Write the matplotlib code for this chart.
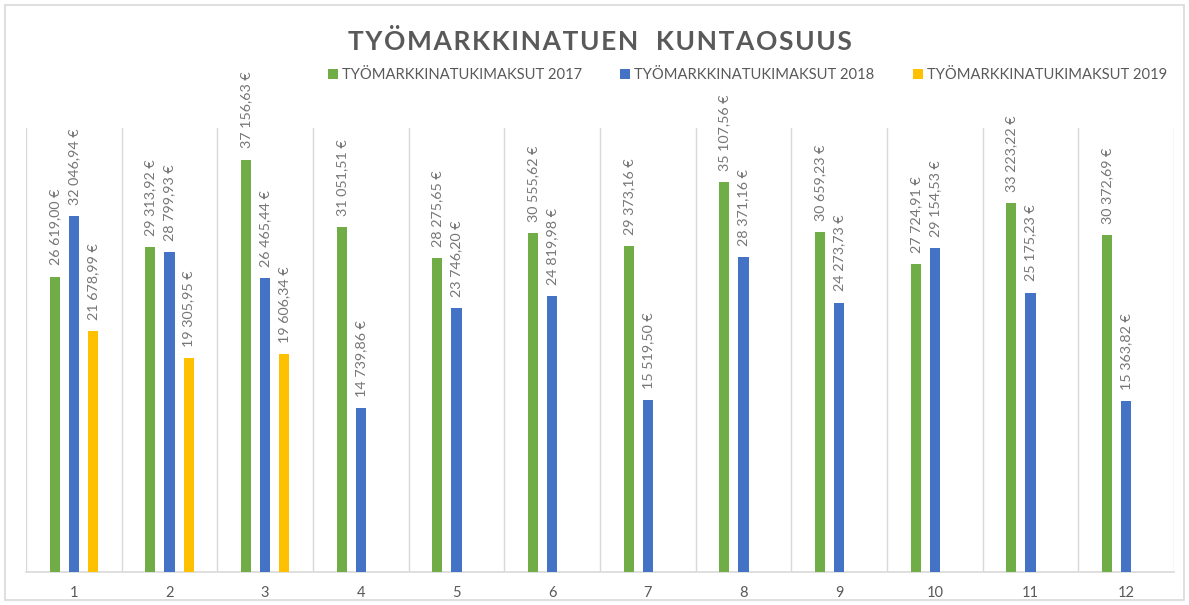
import matplotlib
matplotlib.use("Agg")
import matplotlib.pyplot as plt
from matplotlib.patches import Rectangle
import numpy as np

categories = ["1", "2", "3", "4", "5", "6", "7", "8", "9", "10", "11", "12"]
series_names = ["TYÖMARKKINATUKIMAKSUT 2017", "TYÖMARKKINATUKIMAKSUT 2018", "TYÖMARKKINATUKIMAKSUT 2019"]
v2017 = [26619.00, 29313.92, 37156.63, 31051.51, 28275.65, 30555.62, 29373.16, 35107.56, 30659.23, 27724.91, 33223.22, 30372.69]
v2018 = [32046.94, 28799.93, 26465.44, 14739.86, 23746.20, 24819.98, 15519.50, 28371.16, 24273.73, 29154.53, 25175.23, 15363.82]
v2019 = [21678.99, 19305.95, 19606.34, None, None, None, None, None, None, None, None, None]
colors = ["#70AD47", "#4472C4", "#FFC000"]
title = "TYÖMARKKINATUEN  KUNTAOSUUS"

TXT = "#595959"
LBL = "#767676"
FONT = "Lato"

def fmt(v):
    s = f"{v:,.2f}"
    s = s.replace(",", " ").replace(".", ",")
    return s + " €"

fig = plt.figure(figsize=(11.89, 6.05), dpi=100)
fig.patch.set_facecolor("white")
fig.patches.append(Rectangle((5/1189, 5/605), 1179/1189, 595/605, transform=fig.transFigure,
                             fill=False, edgecolor="#D9D9D9", linewidth=1.2))

ax = fig.add_axes([26/1189, 33/605, 1148/1189, 444/605])
x = np.arange(1, len(categories) + 1)
offsets = [-0.2, 0.0, 0.2]
width = 0.105
handles = []
for vals, off, col, name in zip([v2017, v2018, v2019], offsets, colors, series_names):
    xs = [xi + off for xi, v in zip(x, vals) if v is not None]
    ys = [v for v in vals if v is not None]
    b = ax.bar(xs, ys, width=width, color=col, label=name, zorder=3)
    handles.append(b)
    for xi, yi in zip(xs, ys):
        ax.annotate(fmt(yi), (xi, yi), xytext=(0, 8), textcoords="offset points",
                    rotation=90, ha="center", va="bottom", fontsize=10.3,
                    color=LBL, family=FONT)

ax.set_xlim(0.5, len(categories) + 0.5)
ax.set_ylim(0, 40000)
ax.set_yticks([])
ax.set_xticks(x)
ax.set_xticklabels(categories, fontsize=10.5, color=TXT, family=FONT)
ax.tick_params(axis="x", length=0, pad=10)
for s in ["top", "right", "left"]:
    ax.spines[s].set_visible(False)
ax.spines["bottom"].set_color("#D9D9D9")
ax.spines["bottom"].set_linewidth(1.2)
for g in np.arange(0.5, len(categories) + 1, 1.0):
    ax.axvline(g, color="#D9D9D9", linewidth=1.0, zorder=1)

fig.text(600/1189, 1 - 42/605, "\u200a".join(title), ha="center", va="center",
         fontsize=19, fontweight="bold", color=TXT, family=FONT)

leg = fig.legend(handles=handles, labels=series_names, loc="center right",
                 bbox_to_anchor=(1180/1189, 1 - 75/605), ncol=3, frameon=False,
                 handlelength=0.7, handleheight=0.7, handletextpad=0.25,
                 columnspacing=2.6, prop={"family": FONT, "size": 10.6})
for t in leg.get_texts():
    t.set_color(TXT)

fig.savefig("out.png", dpi=100)
